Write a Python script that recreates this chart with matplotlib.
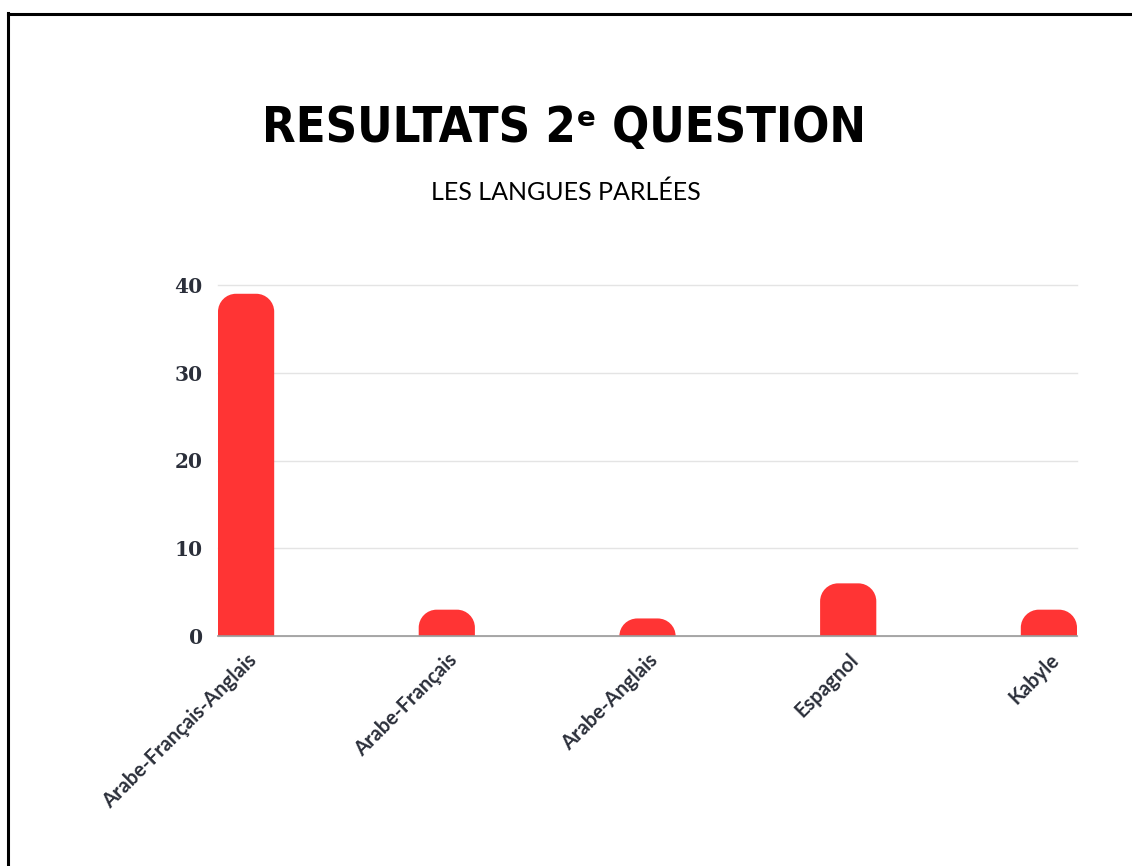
import matplotlib
matplotlib.use("Agg")
import matplotlib.pyplot as plt
from matplotlib.path import Path
from matplotlib.patches import PathPatch
from matplotlib.lines import Line2D

langues = ["Arabe-Français-Anglais", "Arabe-Français", "Arabe-Anglais", "Espagnol", "Kabyle"]
reponses = [39, 3, 2, 6, 3]
yticks = [0, 10, 20, 30, 40]

bar_color = "#ff3434"
text_color = "#2b2f3a"

fig = plt.figure(figsize=(11.32, 8.66), dpi=100)
fig.patch.set_facecolor("white")

# black frame (top and left only, like the cropped screenshot)
fig.add_artist(Line2D([7.5 / 1132, 7.5 / 1132], [0, 1 - 13 / 866], color="black", lw=2.2,
                      transform=fig.transFigure))
fig.add_artist(Line2D([7.5 / 1132, 1], [1 - 13.5 / 866, 1 - 13.5 / 866], color="black", lw=2.2,
                      transform=fig.transFigure))

ax = fig.add_axes([218 / 1132, 1 - 636 / 866, (1077 - 218) / 1132, (636 - 285) / 866])
x = list(range(len(langues)))
width = 0.28
ax.set_xlim(-width / 2, len(langues) - 1 + width / 2)
ax.set_ylim(0, 40)

bars = ax.bar(x, reponses, width=width, color="none", edgecolor="none")

# rounded top corners
fig.canvas.draw()
px_x = ax.transData.transform((1, 0))[0] - ax.transData.transform((0, 0))[0]
px_y = ax.transData.transform((0, 1))[1] - ax.transData.transform((0, 0))[1]
r_px = 18
k = 0.5523
for b in bars:
    x0, w, h = b.get_x(), b.get_width(), b.get_height()
    rx = r_px / px_x
    ry = min(r_px / px_y, h)
    verts = [(x0, 0), (x0, h - ry),
             (x0, h - ry + k * ry), (x0 + rx - k * rx, h), (x0 + rx, h),
             (x0 + w - rx, h),
             (x0 + w - rx + k * rx, h), (x0 + w, h - ry + k * ry), (x0 + w, h - ry),
             (x0 + w, 0), (x0, 0)]
    codes = [Path.MOVETO, Path.LINETO,
             Path.CURVE4, Path.CURVE4, Path.CURVE4,
             Path.LINETO,
             Path.CURVE4, Path.CURVE4, Path.CURVE4,
             Path.LINETO, Path.CLOSEPOLY]
    ax.add_patch(PathPatch(Path(verts, codes), facecolor=bar_color, edgecolor="none", zorder=3))

ax.set_yticks(yticks)
ax.set_yticklabels([str(v) for v in yticks], fontfamily="DejaVu Serif", fontweight="bold",
                   fontsize=14.5, color=text_color)
ax.set_xticks(x)
ax.set_xticklabels(langues, rotation=45, ha="right", rotation_mode="anchor",
                   fontsize=14.5, color=text_color, fontfamily="Lato", fontweight="bold")
ax.tick_params(axis="both", length=0)
ax.tick_params(axis="y", pad=11)
ax.tick_params(axis="x", pad=10)

ax.grid(axis="y", color="#e4e4e4", lw=1)
ax.set_axisbelow(True)
for s in ["top", "right", "left"]:
    ax.spines[s].set_visible(False)
ax.spines["bottom"].set_color("#9a9a9a")
ax.spines["bottom"].set_linewidth(1.2)
ax.spines["bottom"].set_zorder(4)
for gl in ax.get_ygridlines():
    gl.set_clip_on(False)

fig.text(0.4985, 1 - 128 / 866, "RESULTATS 2ᵉ QUESTION", ha="center", va="center",
         fontsize=35, fontweight="bold", fontstretch="condensed", fontfamily="DejaVu Sans",
         color="black")
fig.text(0.5, 1 - 192 / 866, "LES LANGUES PARLÉES", ha="center", va="center",
         fontsize=18, fontweight="normal", fontfamily="Lato", color="black")

fig.savefig("out.png", dpi=100, facecolor="white")
